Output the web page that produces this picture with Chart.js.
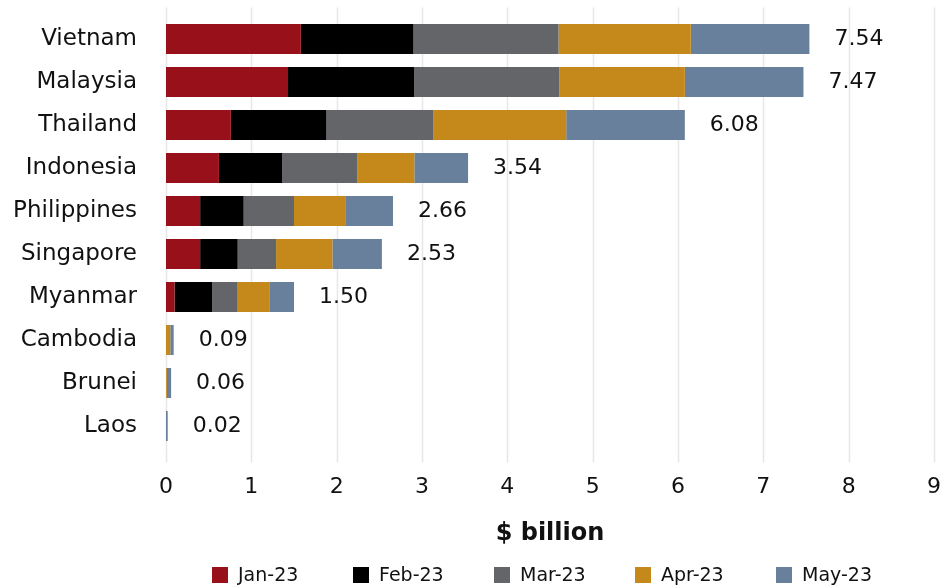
<!DOCTYPE html>
<html>
<head>
<meta charset="utf-8">
<script src="https://cdn.jsdelivr.net/npm/chart.js@4"></script>
<style>
  html, body { margin: 0; padding: 0; background: #fff; }
  #wrap { width: 944px; height: 587px; }
</style>
</head>
<body>
<div id="wrap"><canvas id="exportsChart"></canvas></div>
<script>
// Monthly values by country, $ billion
const countries = ['Vietnam', 'Malaysia', 'Thailand', 'Indonesia', 'Philippines',
                   'Singapore', 'Myanmar', 'Cambodia', 'Brunei', 'Laos'];
const months = ['Jan-23', 'Feb-23', 'Mar-23', 'Apr-23', 'May-23'];
const jan = [1.58, 1.43, 0.76, 0.62, 0.40, 0.40, 0.10, 0, 0, 0];
const feb = [1.32, 1.48, 1.12, 0.74, 0.51, 0.44, 0.44, 0, 0, 0];
const mar = [1.70, 1.70, 1.25, 0.88, 0.59, 0.45, 0.30, 0, 0, 0];
const apr = [1.55, 1.47, 1.56, 0.67, 0.60, 0.66, 0.37, 0.05, 0.01, 0];
const may = [1.39, 1.39, 1.39, 0.63, 0.56, 0.58, 0.29, 0.04, 0.05, 0.02];
const totals = [7.54, 7.47, 6.08, 3.54, 2.66, 2.53, 1.50, 0.09, 0.06, 0.02];
const xTicks = [0, 1, 2, 3, 4, 5, 6, 7, 8, 9];

const colors = ['#98101a', '#000000', '#636569', '#c4891a', '#68809b'];
const FONT = "'DejaVu Sans', sans-serif";

// vertical grid lines running a little past the bars at both ends
const gridPlugin = {
    id: 'gridExt',
    beforeDatasetsDraw(chart) {
        const { ctx, chartArea, scales } = chart;
        ctx.save();
        ctx.strokeStyle = '#e7e7e7';
        ctx.lineWidth = 1.5;
        xTicks.forEach(v => {
            const x = Math.round(scales.x.getPixelForValue(v)) + 0.5;
            ctx.beginPath();
            ctx.moveTo(x, chartArea.top - 10);
            ctx.lineTo(x, chartArea.bottom + 15);
            ctx.stroke();
        });
        ctx.restore();
    }
};

// total at the end of each bar
const totalsPlugin = {
    id: 'totals',
    afterDatasetsDraw(chart) {
        const { ctx, scales } = chart;
        ctx.save();
        ctx.font = '22px ' + FONT;
        ctx.fillStyle = '#111';
        ctx.textAlign = 'left';
        ctx.textBaseline = 'middle';
        totals.forEach((t, i) => {
            const x = scales.x.getPixelForValue(t) + 25;
            const y = scales.y.getPixelForValue(i);
            ctx.fillText(t.toFixed(2), x, y);
        });
        ctx.restore();
    }
};

// legend row along the bottom, fixed pitch between items
const legendPlugin = {
    id: 'bottomLegend',
    afterDraw(chart) {
        const { ctx, chartArea } = chart;
        const pitch = 141;
        const mid = (chartArea.left + chartArea.right) / 2;
        const x0 = mid - 338;
        const y = chart.height - 12;
        ctx.save();
        ctx.font = '19px ' + FONT;
        ctx.textAlign = 'left';
        ctx.textBaseline = 'middle';
        months.forEach((m, i) => {
            const x = x0 + i * pitch;
            ctx.fillStyle = colors[i];
            ctx.fillRect(x, y - 8, 16, 16);
            ctx.fillStyle = '#111';
            ctx.fillText(m, x + 26, y + 1);
        });
        ctx.restore();
    }
};

const ctx = document.getElementById('exportsChart').getContext('2d');
new Chart(ctx, {
    type: 'bar',
    data: {
        labels: countries,
        datasets: [jan, feb, mar, apr, may].map((d, i) => ({
            label: months[i],
            data: d,
            backgroundColor: colors[i],
            borderWidth: 0,
            categoryPercentage: 1,
            barPercentage: 0.7
        }))
    },
    options: {
        indexAxis: 'y',
        responsive: true,
        maintainAspectRatio: false,
        animation: false,
        layout: { padding: { top: 17.5, right: 10, left: 0, bottom: 30 } },
        scales: {
            x: {
                stacked: true,
                min: 0,
                max: 9,
                grid: { display: false, drawTicks: false },
                border: { display: false },
                ticks: {
                    stepSize: 1,
                    padding: 27,
                    color: '#111',
                    font: { family: FONT, size: 22 }
                },
                title: {
                    display: true,
                    text: '$ billion',
                    color: '#111',
                    font: { family: FONT, size: 24, weight: 'bold' },
                    padding: { top: 10, bottom: 9 }
                },
                afterFit(scale) {
                    scale.height = 109.5;
                    scale.paddingLeft = 0;
                    scale.paddingRight = 10;
                }
            },
            y: {
                stacked: true,
                grid: { display: false, drawTicks: false },
                border: { display: false },
                ticks: {
                    padding: 29,
                    color: '#111',
                    font: { family: FONT, size: 23 }
                },
                afterFit(scale) {
                    scale.width = 166;
                    scale.paddingTop = 0;
                    scale.paddingBottom = 0;
                }
            }
        },
        plugins: {
            legend: { display: false },
            tooltip: { enabled: false }
        }
    },
    plugins: [gridPlugin, totalsPlugin, legendPlugin]
});
</script>
</body>
</html>
